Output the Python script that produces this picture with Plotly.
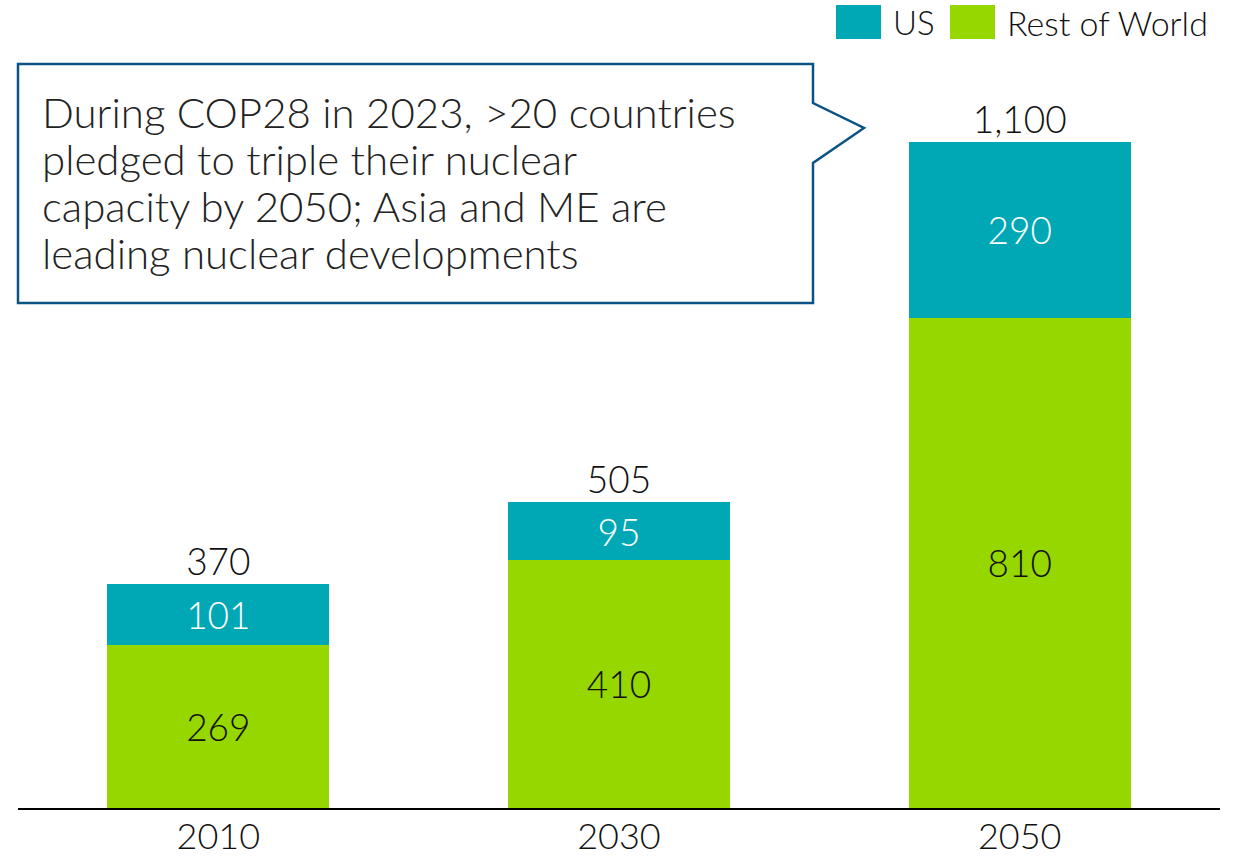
import plotly.graph_objects as go

# Nuclear capacity (GW) by year
years = ["2010", "2030", "2050"]
rest_of_world = [269, 410, 810]
us = [101, 95, 290]
totals = [370, 505, 1100]
total_labels = ["370", "505", "1,100"]

callout_lines = [
    "During COP28 in 2023, >20 countries",
    "pledged to triple their nuclear",
    "capacity by 2050; Asia and ME are",
    "leading nuclear developments",
]

US_COLOR = "#00A8B5"
ROW_COLOR = "#97D700"
BOX_COLOR = "#0B5384"
FONT = "Lato"

W, H = 1240, 860
ML, MR, MT, MB = 18, 20, 60, 52
PW, PH = W - ML - MR, H - MT - MB


def px(x):
    return (x - ML) / PW


def py(y):
    return (H - MB - y) / PH


fig = go.Figure()
fig.add_trace(go.Bar(
    x=years, y=rest_of_world, name="Rest of World",
    marker=dict(color=ROW_COLOR, line=dict(width=0)),
    text=[str(v) for v in rest_of_world], textposition="inside",
    insidetextanchor="middle",
    textfont=dict(family=FONT, size=37, color="#111111", weight=300),
    width=0.554, showlegend=False,
))
fig.add_trace(go.Bar(
    x=years, y=us, name="US",
    marker=dict(color=US_COLOR, line=dict(width=0)),
    text=[str(v) for v in us], textposition="inside",
    insidetextanchor="middle",
    textfont=dict(family=FONT, size=37, color="white", weight=300),
    width=0.554, showlegend=False,
))
fig.add_trace(go.Scatter(
    x=years, y=totals, mode="text", text=total_labels,
    textposition="top center",
    textfont=dict(family=FONT, size=37, color="#111111", weight=300),
    showlegend=False, hoverinfo="skip",
))

# Callout box with a pointer toward the 2050 bar
pts = [(18, 64), (813, 64), (813, 103), (864, 128), (813, 163),
       (813, 303), (18, 303)]
path = "M " + " L ".join(f"{px(x):.5f},{py(y):.5f}" for x, y in pts) + " Z"
shapes = [dict(type="path", xref="paper", yref="paper", path=path,
               line=dict(color=BOX_COLOR, width=2.5), fillcolor="white",
               layer="above")]

# Legend swatches
for x0, x1, col in [(836, 881, US_COLOR), (950, 995, ROW_COLOR)]:
    shapes.append(dict(type="rect", xref="paper", yref="paper",
                       x0=px(x0), x1=px(x1), y0=py(39), y1=py(5),
                       fillcolor=col, line=dict(width=0)))

annotations = []
for i, line in enumerate(callout_lines):
    annotations.append(dict(
        xref="paper", yref="paper", x=px(40), y=py(112 + 47 * i),
        xanchor="left", yanchor="middle", align="left", showarrow=False,
        text=line,
        font=dict(family=FONT, size=42, color="#222222", weight=300)))

annotations += [
    dict(xref="paper", yref="paper", x=px(891), y=py(22),
         xanchor="left", yanchor="middle", showarrow=False, text="US",
         font=dict(family=FONT, size=33, color="#111111", weight=300)),
    dict(xref="paper", yref="paper", x=px(1005), y=py(22),
         xanchor="left", yanchor="middle", showarrow=False,
         text="Rest of World",
         font=dict(family=FONT, size=34, color="#111111", weight=300)),
]

fig.update_layout(
    width=W, height=H, barmode="stack",
    margin=dict(l=ML, r=MR, t=MT, b=MB, autoexpand=False),
    paper_bgcolor="white", plot_bgcolor="white",
    shapes=shapes, annotations=annotations,
    uniformtext=dict(mode="show", minsize=37),
    xaxis=dict(showline=True, linecolor="black", linewidth=2,
               showgrid=False, ticks="", zeroline=False, automargin=False,
               ticklabelstandoff=-4,
               tickfont=dict(family=FONT, size=36, color="#111111",
                             weight=300),
               range=[-0.5, 2.5], fixedrange=True),
    yaxis=dict(visible=False, range=[0, PH / (666 / 1100)],
               showgrid=False, zeroline=False, fixedrange=True),
)

fig.write_html("out.html")
